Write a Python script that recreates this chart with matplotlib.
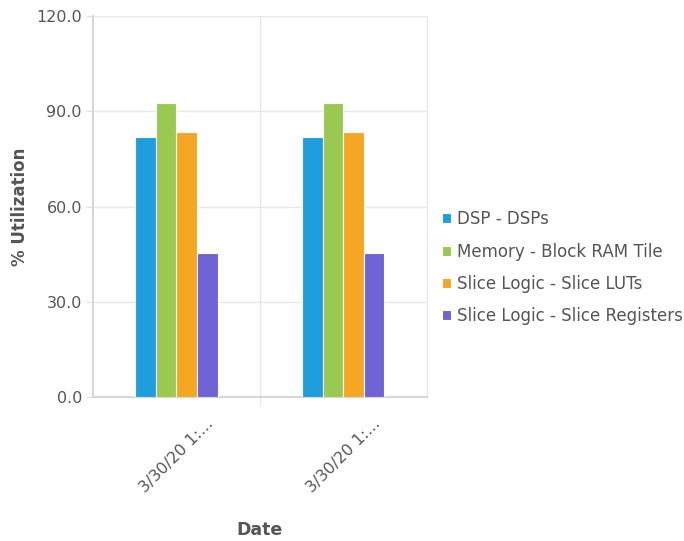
import numpy as np
import matplotlib.pyplot as plt

plt.rcParams["font.family"] = ["DejaVu Sans"]

dates = ["3/30/20 1:...", "3/30/20 1:..."]
series = ["DSP - DSPs", "Memory - Block RAM Tile",
          "Slice Logic - Slice LUTs", "Slice Logic - Slice Registers"]
dsp = [81.9, 81.9]
bram = [92.6, 92.6]
luts = [83.4, 83.4]
regs = [45.4, 45.4]
values = [dsp, bram, luts, regs]
colors = ["#1f9ede", "#9ac952", "#f5a623", "#7063d6"]

txt = "#555555"
fig = plt.figure(figsize=(6.84, 5.41), dpi=100)
ax = fig.add_axes([0.136, 0.266, 0.488, 0.704])

x = np.arange(len(dates))
w = 0.123
for i, (name, vals) in enumerate(zip(series, values)):
    ax.bar(x + (i - 1.5) * w, vals, width=w, color=colors[i],
           edgecolor="white", linewidth=0.8, label=name, zorder=3)

ax.set_xlim(-0.5, 1.5)
ax.set_ylim(0, 120)
ax.set_yticks([0, 30, 60, 90, 120])
ax.set_yticklabels([f"{v:.1f}" for v in [0, 30, 60, 90, 120]])
ax.set_xticks(x)
ax.set_xticklabels(dates, rotation=45, ha="center")
ax.set_xticks([0.5], minor=True)
ax.tick_params(axis="x", which="major", length=0, pad=14, labelsize=11.5, labelcolor=txt)
ax.tick_params(axis="x", which="minor", length=6, color="#dddddd")
ax.tick_params(axis="y", length=5, color="#dddddd", labelsize=11.5, labelcolor=txt, pad=3)

ax.grid(axis="y", color="#e6e6e6", linewidth=1, zorder=0)
ax.grid(axis="x", which="minor", color="#e6e6e6", linewidth=1, zorder=0)
ax.spines["top"].set_visible(False)
ax.spines["right"].set_color("#e6e6e6")
ax.spines["left"].set_color("#d6d6d6")
ax.spines["left"].set_linewidth(1.5)
ax.spines["bottom"].set_color("#d6d6d6")
ax.spines["bottom"].set_linewidth(1.5)

ax.set_xlabel("Date", fontsize=12.5, fontweight="bold", color=txt, labelpad=18)
ax.set_ylabel("% Utilization", fontsize=12, fontweight="bold", color=txt, labelpad=5)

leg = ax.legend(loc="center left", bbox_to_anchor=(1.02, 0.34), frameon=False,
                fontsize=12, handlelength=0.55, handleheight=0.55,
                handletextpad=0.35, labelspacing=0.85, borderpad=0)
for t in leg.get_texts():
    t.set_color(txt)

fig.savefig("out.png", dpi=100)
